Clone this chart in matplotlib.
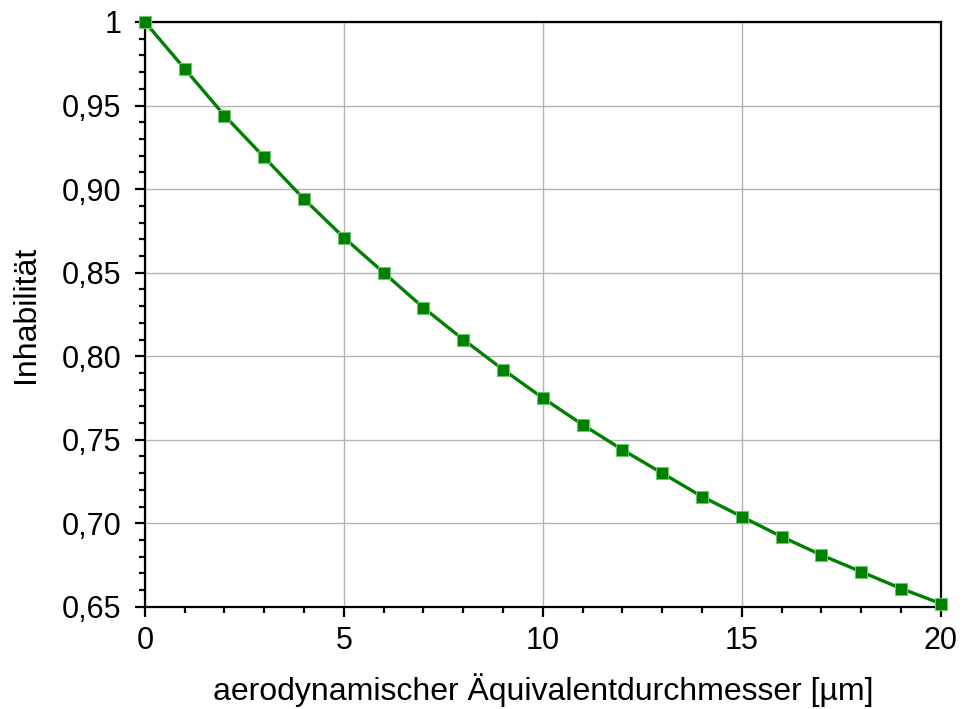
import matplotlib.pyplot as plt
import numpy as np
from matplotlib.ticker import MultipleLocator, FuncFormatter

plt.rcParams['font.family'] = ['Liberation Sans', 'DejaVu Sans']

# Daten
durchmesser = [0, 1, 2, 3, 4, 5, 6, 7, 8, 9, 10,
               11, 12, 13, 14, 15, 16, 17, 18, 19, 20]
inhabilitaet = [1.0, 0.972, 0.944, 0.919, 0.894, 0.871, 0.850, 0.829, 0.810, 0.792, 0.775,
                0.759, 0.744, 0.730, 0.716, 0.704, 0.692, 0.681, 0.671, 0.661, 0.652]

fig = plt.figure(figsize=(9.66, 7.09), dpi=100)
ax = fig.add_axes([0.150, 0.144, 0.824, 0.825])

ax.plot(durchmesser, inhabilitaet, color='#008000', linewidth=2.4,
        marker='s', markersize=9, markerfacecolor='#008000',
        markeredgecolor='#6cc46c', markeredgewidth=0.8, zorder=3, clip_on=False)

ax.set_xlim(0, 20)
ax.set_ylim(0.65, 1.0)
ax.xaxis.set_major_locator(MultipleLocator(5))
ax.xaxis.set_minor_locator(MultipleLocator(1))
ax.yaxis.set_major_locator(MultipleLocator(0.05))
ax.yaxis.set_minor_locator(MultipleLocator(0.01))


def fmt(v, pos):
    if abs(v - 1.0) < 1e-9:
        return '1'
    return f'{v:.2f}'.replace('.', ',')


ax.yaxis.set_major_formatter(FuncFormatter(fmt))
ax.grid(True, which='major', color='#b4b4b4', linewidth=1.0)
ax.set_axisbelow(True)

ax.tick_params(which='major', direction='out', length=7, width=1.6, labelsize=22)
ax.tick_params(axis='y', which='major', pad=10)
ax.tick_params(axis='x', which='major', pad=7)
ax.tick_params(which='minor', direction='out', length=4, width=1.6)
ax.tick_params(top=False, right=False)
for s in ax.spines.values():
    s.set_linewidth(1.6)

ax.set_xlabel('aerodynamischer Äquivalentdurchmesser [µm]', fontsize=23, labelpad=12)
ax.set_ylabel('Inhabilität', fontsize=23, labelpad=15)

fig.savefig('out.png', dpi=100)
